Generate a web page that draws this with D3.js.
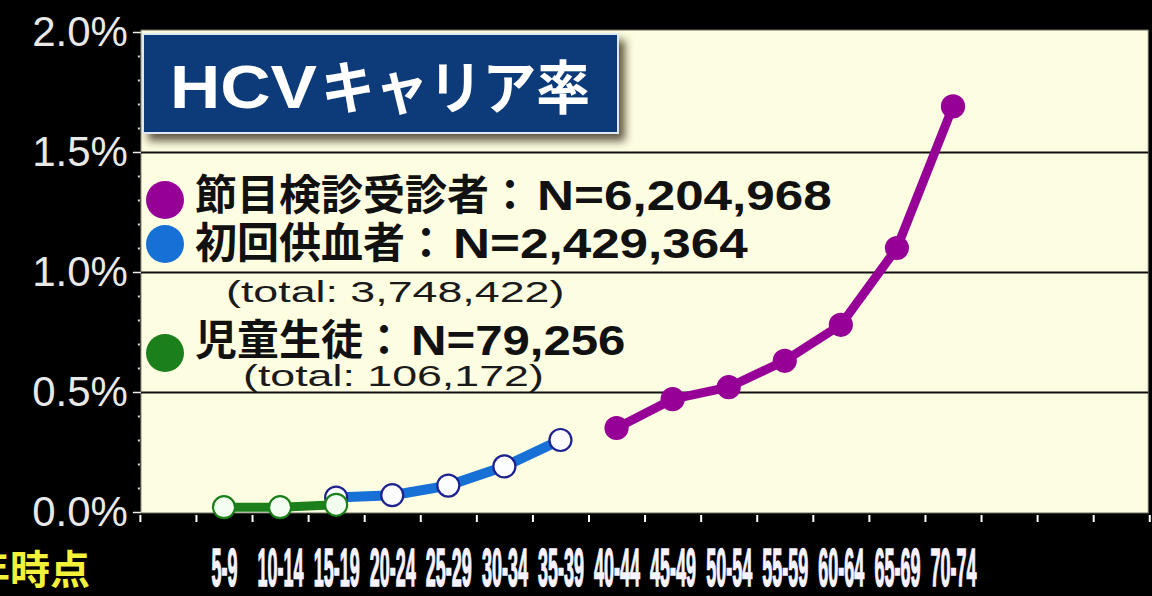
<!DOCTYPE html>
<html>
<head>
<meta charset="utf-8">
<script src="https://cdn.jsdelivr.net/npm/d3@7"></script>
<style>
  body { margin: 0; background: #000; }
  svg { display: block; }
</style>
</head>
<body>
<div id="chart"></div>
<script>
const w = 1152;
const h = 596;

// age groups on the x axis
const ageGroups = ["5-9", "10-14", "15-19", "20-24", "25-29", "30-34", "35-39",
                   "40-44", "45-49", "50-54", "55-59", "60-64", "65-69", "70-74"];

// HCV carrier rate (%) per age group, null = no data
const checkupRate = [null, null, null, null, null, null, null, 0.35, 0.47, 0.52, 0.63, 0.78, 1.10, 1.69];
const donorRate   = [null, null, 0.06, 0.07, 0.11, 0.19, 0.30, null, null, null, null, null, null, null];
const studentRate = [0.02, 0.02, 0.03, null, null, null, null, null, null, null, null, null, null, null];

const yTicks = [0, 0.5, 1.0, 1.5, 2.0];

const titleLatin = "HCV";
const titleKana = "キャリア率";
const yearNote = "年時点";

const legendLabels = ["節目検診受診者：", "初回供血者：", "児童生徒："];
const legendCounts = ["N=6,204,968", "N=2,429,364", "N=79,256"];
const legendTotals = [null, "(total: 3,748,422)", "(total: 106,172)"];

const purple = "#970096";
const blue = "#1670d6";
const green = "#1b7f1b";

// legend layout (dot centre, text baseline, totals line)
const legendRows = [
    { dotY: 200, textY: 210, totX: 0,   totY: 0 },
    { dotY: 244, textY: 258, totX: 226, totY: 302 },
    { dotY: 353, textY: 355, totX: 243, totY: 386 }
];

const svg = d3.select("#chart")
    .append("svg")
    .attr("width", w)
    .attr("height", h);

svg.append("rect").attr("width", w).attr("height", h).attr("fill", "#000");

// scales
const x = d3.scaleLinear()
    .domain([0, ageGroups.length - 1])
    .range([224, 953]);

const y = d3.scaleLinear()
    .domain([0, 2])
    .range([512, 32]);

const plotL = x(-1.5) + 1, plotR = x(16.5) - 1;
const plotT = y(2) - 2, plotB = y(0) + 1;

// plot background
svg.append("rect")
    .attr("x", plotL)
    .attr("y", plotT)
    .attr("width", plotR - plotL)
    .attr("height", plotB - plotT)
    .attr("fill", "#fdfde1")
    .attr("stroke", "#6a6a5a")
    .attr("stroke-width", 1);

// grid lines
svg.append("g")
    .attr("transform", `translate(${plotL},0)`)
    .call(d3.axisLeft(y).tickValues([0.5, 1.0, 1.5]).tickSize(-(plotR - plotL)).tickFormat(""))
    .call(g => g.select(".domain").remove())
    .call(g => g.selectAll("line").attr("stroke", "#111").attr("stroke-width", 2));

// y axis
svg.append("g")
    .attr("transform", `translate(${plotL},0)`)
    .call(d3.axisLeft(y).tickValues(yTicks).tickSize(8).tickPadding(5).tickFormat(d => d.toFixed(1) + "%"))
    .call(g => g.select(".domain").remove())
    .call(g => g.selectAll("line").attr("stroke", "#eee").attr("stroke-width", 1.5))
    .call(g => g.selectAll("text")
        .attr("fill", "#e8e8e8")
        .attr("font-family", "'Liberation Sans', Arial, sans-serif")
        .attr("font-size", 42));

// minor y ticks
svg.append("g")
    .attr("transform", `translate(${plotL - 1},0)`)
    .call(d3.axisLeft(y)
        .tickValues(d3.range(1, 20).filter(k => k % 5 != 0).map(k => k / 10))
        .tickSize(2).tickFormat(""))
    .call(g => g.select(".domain").remove())
    .call(g => g.selectAll("line").attr("stroke", "#ddd").attr("stroke-width", 2));

// x tick marks between groups
svg.append("g")
    .attr("transform", `translate(0,${plotB + 2})`)
    .call(d3.axisBottom(x).tickValues(d3.range(-1.5, 17, 1)).tickSize(7).tickFormat(""))
    .call(g => g.select(".domain").remove())
    .call(g => g.selectAll("line").attr("stroke", "#fff").attr("stroke-width", 2));

// x labels (tall condensed), squeezed horizontally
svg.append("g")
    .attr("transform", "translate(0,586)")
    .call(d3.axisBottom(x).tickValues(d3.range(ageGroups.length)).tickSize(0).tickFormat(i => ageGroups[i]))
    .call(g => g.select(".domain").remove())
    .call(g => g.selectAll("text")
        .attr("y", 0)
        .attr("dy", 0)
        .attr("fill", "#f6f2ff")
        .attr("stroke", "#f6f2ff")
        .attr("stroke-width", 1.5)
        .attr("font-family", "'Liberation Sans', Arial, sans-serif")
        .attr("font-weight", "bold")
        .attr("font-size", 54)
        .each(function(d) {
            const target = ageGroups[d].replace("-", "").length * 10 + 6;
            const natural = this.getComputedTextLength();
            d3.select(this).attr("transform", `scale(${target / natural},1)`);
        }));

svg.append("text")
    .attr("x", 90)
    .attr("y", 584)
    .attr("text-anchor", "end")
    .attr("fill", "#f4f13a")
    .attr("font-family", "'Noto Sans CJK JP', sans-serif")
    .attr("font-weight", "bold")
    .attr("font-size", 40)
    .text(yearNote);

// series
const line = d3.line()
    .defined(d => d != null)
    .x((d, i) => x(i))
    .y(d => y(d));

function drawSeries(values, color, fill, stroke, lw, r) {
    svg.append("path")
        .datum(values)
        .attr("d", line)
        .attr("fill", "none")
        .attr("stroke", color)
        .attr("stroke-width", lw)
        .attr("stroke-linejoin", "round")
        .attr("stroke-linecap", "round");
    svg.append("g").selectAll("circle")
        .data(values.map((v, i) => ({ v, i })).filter(d => d.v != null))
        .enter()
        .append("circle")
        .attr("cx", d => x(d.i))
        .attr("cy", d => y(d.v))
        .attr("r", r)
        .attr("fill", fill)
        .attr("stroke", stroke)
        .attr("stroke-width", 2.2);
}

drawSeries(donorRate, blue, "#fbfdff", "#1d2290", 10, 11);
drawSeries(studentRate, green, "#f2fff0", green, 9, 11);
drawSeries(checkupRate, purple, purple, purple, 9, 11);

// title box
const defs = svg.append("defs");
defs.append("filter")
    .attr("id", "shadow")
    .attr("x", "-10%").attr("y", "-20%").attr("width", "130%").attr("height", "150%")
    .append("feDropShadow")
    .attr("dx", 6).attr("dy", 7)
    .attr("stdDeviation", 4)
    .attr("flood-color", "#3a3020")
    .attr("flood-opacity", 0.8);

svg.append("rect")
    .attr("x", 143)
    .attr("y", 34)
    .attr("width", 475)
    .attr("height", 99)
    .attr("fill", "#0c3a79")
    .attr("stroke", "#dfe9f6")
    .attr("stroke-width", 2)
    .attr("filter", "url(#shadow)");

svg.append("text")
    .attr("x", 170)
    .attr("y", 108)
    .attr("fill", "#fff")
    .attr("font-family", "'Liberation Sans', Arial, sans-serif")
    .attr("font-weight", "bold")
    .attr("font-size", 62)
    .attr("textLength", 147)
    .attr("lengthAdjust", "spacingAndGlyphs")
    .text(titleLatin);

svg.append("text")
    .attr("x", 321)
    .attr("y", 109)
    .attr("fill", "#fff")
    .attr("font-family", "'Noto Sans CJK JP', sans-serif")
    .attr("font-weight", "bold")
    .attr("font-size", 58)
    .attr("textLength", 269)
    .attr("lengthAdjust", "spacingAndGlyphs")
    .text(titleKana);

// legend
const legendColors = [purple, blue, green];
const legend = svg.append("g");

legendRows.forEach((row, i) => {
    legend.append("circle")
        .attr("cx", 165)
        .attr("cy", row.dotY)
        .attr("r", 19)
        .attr("fill", legendColors[i]);
    const label = legend.append("text")
        .attr("x", 195)
        .attr("y", row.textY)
        .attr("fill", "#111")
        .attr("font-family", "'Noto Sans CJK JP', sans-serif")
        .attr("font-weight", "bold")
        .attr("font-size", 42)
        .text(legendLabels[i]);
    const labelEnd = 195 + label.node().getComputedTextLength();
    legend.append("text")
        .attr("x", labelEnd + 6)
        .attr("y", row.textY)
        .attr("fill", "#111")
        .attr("font-family", "'Liberation Sans', Arial, sans-serif")
        .attr("font-weight", "bold")
        .attr("font-size", 42)
        .attr("textLength", legendCounts[i].length * 26.8)
        .attr("lengthAdjust", "spacingAndGlyphs")
        .text(legendCounts[i]);
    if (legendTotals[i]) {
        legend.append("text")
            .attr("x", row.totX)
            .attr("y", row.totY)
            .attr("fill", "#1a1a1a")
            .attr("font-family", "'Liberation Sans', Arial, sans-serif")
            .attr("font-size", 29)
            .attr("textLength", legendTotals[i].length * 18.8)
            .attr("lengthAdjust", "spacingAndGlyphs")
            .text(legendTotals[i]);
    }
});
</script>
</body>
</html>
